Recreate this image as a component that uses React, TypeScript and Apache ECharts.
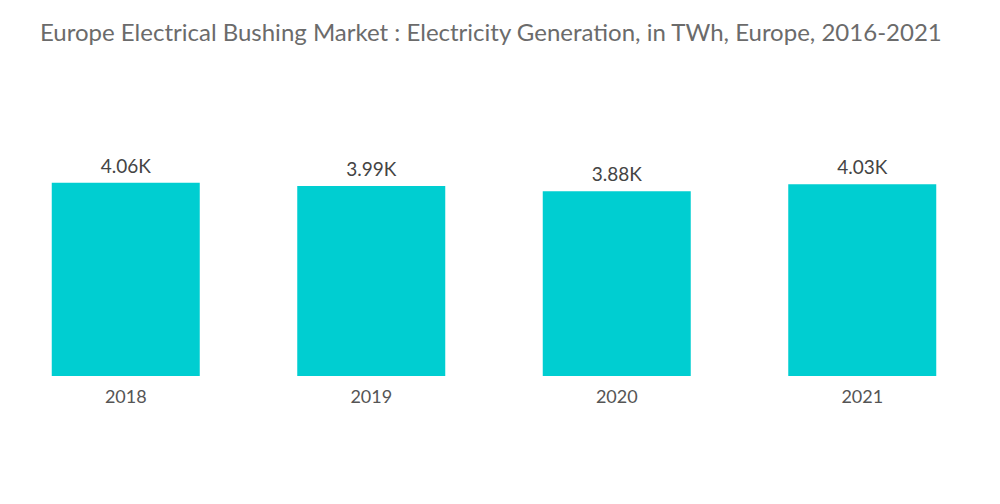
import React, { useEffect, useRef } from "react";
import * as echarts from "echarts";

const categories = ["2018", "2019", "2020", "2021"];
const values = [4060, 3990, 3880, 4030];
const valueLabels = ["4.06K", "3.99K", "3.88K", "4.03K"];
const titleText = "Europe Electrical Bushing Market : Electricity Generation, in TWh, Europe, 2016-2021";

export default function App() {
  const ref = useRef<HTMLDivElement>(null);
  useEffect(() => {
    const chart = echarts.init(ref.current!, null, { renderer: "svg" });
    chart.setOption({
      animation: false,
      title: {
        text: titleText,
        left: 35,
        top: 14,
        textStyle: { fontFamily: "Lato", fontSize: 24, fontWeight: "normal", color: "#6b6b6b" },
      },
      grid: { left: 3, right: 15, top: 138, bottom: 128, containLabel: false },
      xAxis: {
        type: "category",
        data: categories,
        axisLine: { show: false },
        axisTick: { show: false },
        axisLabel: { fontFamily: "Lato", fontSize: 18, color: "#555", margin: 11 },
      },
      yAxis: { type: "value", min: 0, max: 5000, show: false },
      series: [
        {
          type: "bar",
          data: values,
          barWidth: 148,
          itemStyle: { color: "#00CED1" },
          label: {
            show: true,
            position: "top",
            distance: 8,
            fontFamily: "Lato",
            fontSize: 19,
            color: "#444",
            formatter: (p: any) => valueLabels[p.dataIndex],
          },
        },
      ],
    });
    return () => chart.dispose();
  }, []);
  return <div ref={ref} style={{ position: "absolute", left: 0, top: 0, width: 1000, height: 504 }} />;
}
